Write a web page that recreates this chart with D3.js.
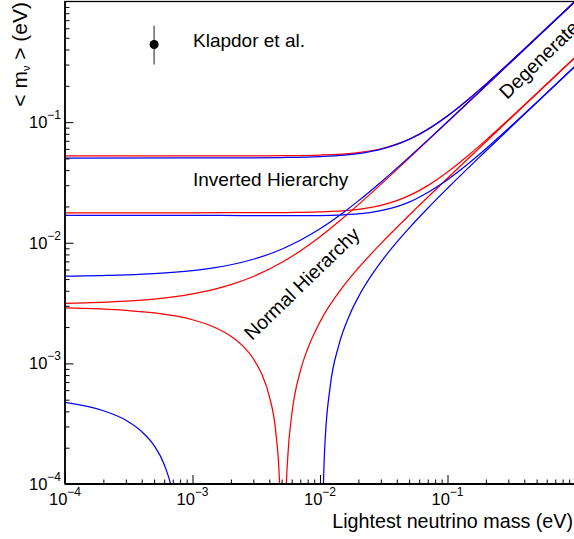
<!DOCTYPE html>
<html><head><meta charset="utf-8">
<script src="https://cdn.jsdelivr.net/npm/d3@7"></script>
<style>body{margin:0;background:#fff}svg{display:block}</style>
</head><body>
<svg id="c" width="574" height="539"></svg>
<script>
// ---- data: [lightest neutrino mass (eV), <m_nu> (eV)] ----
const redIHUpper = [[1e-4,0.05245],[1e-3,0.05246],[3e-3,0.05254],[5e-3,0.05268],[0.01,0.05335],[0.02,0.05595],[0.03,0.06015],[0.04,0.06565],[0.05,0.07215],[0.07,0.087105],[0.1,0.112647],[0.15,0.158728],[0.2,0.206644],[0.3,0.304502],[0.5,0.502778],[1,1.001541]];
const redIHLower = [[1e-4,0.01772],[1e-3,0.01773],[3e-3,0.01775],[5e-3,0.0178],[0.01,0.01803],[0.02,0.01895],[0.03,0.02042],[0.04,0.02232],[0.05,0.02458],[0.07,0.029753],[0.1,0.038575],[0.15,0.054456],[0.2,0.07095],[0.3,0.104612],[0.5,0.172788],[1,0.344245]];
const redNHUpper = [[1e-4,0.003144],[3e-4,0.003281],[5e-4,0.003417],[1e-3,0.003767],[1.5e-3,0.004124],[2e-3,0.004491],[3e-3,0.005248],[5e-3,0.006852],[7e-3,0.008552],[0.01,0.011231],[0.015,0.015902],[0.02,0.020708],[0.03,0.030495],[0.05,0.050312],[0.1,0.100174],[0.3,0.30007],[1,1.0002]];
const redNHLowerA = [[1e-4,0.002886],[3e-4,0.002753],[5e-4,0.002621],[1e-3,0.002299],[1.5e-3,0.001984],[2e-3,0.001679],[2.5e-3,0.001382],[3e-3,0.001092],[3.5e-3,0.000811],[4e-3,0.000536],[4.5e-3,0.000269],[4.8e-3,0.000111],[4.9e-3,0.000059],[4.98e-3,0.000018]];
const redNHLowerB = [[5.3e-3,0.0000226],[5.4e-3,0.0000728],[5.6e-3,0.000174],[6e-3,0.000373],[7e-3,0.000857],[8e-3,0.001321],[0.01,0.002209],[0.015,0.004259],[0.02,0.006172],[0.03,0.009825],[0.05,0.016888],[0.1,0.034226],[0.2,0.068683],[0.5,0.171869],[1,0.343784]];
const blueIHUpper = [[1e-4,0.0504],[1e-3,0.05045],[2.5e-3,0.05057],[5e-3,0.05085],[0.01,0.0518],[0.02,0.0549],[0.03,0.0595],[0.04,0.0653],[0.05,0.071981],[0.07,0.087121],[0.1,0.112676],[0.15,0.158746],[0.2,0.206644],[0.3,0.304471],[0.5,0.502696],[1,1.001351]];
const blueIHLower = [[1e-4,0.0169],[1e-3,0.01687],[2.5e-3,0.01682],[5e-3,0.01678],[0.01,0.0168],[0.02,0.01735],[0.03,0.01845],[0.04,0.0199],[0.05,0.0217],[0.07,0.026077],[0.1,0.03327],[0.15,0.046442],[0.2,0.060234],[0.3,0.088503],[0.5,0.145906],[1,0.290455]];
const blueNHUpper = [[1e-4,0.005277],[3e-4,0.005408],[5e-4,0.005539],[1e-3,0.005875],[1.5e-3,0.006218],[2e-3,0.00657],[3e-3,0.007298],[5e-3,0.008841],[7e-3,0.010477],[0.01,0.01306],[0.015,0.017579],[0.02,0.022245],[0.03,0.031792],[0.05,0.051268],[0.07,0.070971],[0.1,0.100711],[0.2,0.20037],[0.5,0.500136],[1,1.000075]];
const blueNHLowerA = [[1e-4,0.000475],[2e-4,0.000405],[3e-4,0.000338],[4e-4,0.000272],[5e-4,0.000208],[6e-4,0.000145],[7e-4,0.000083],[7.5e-4,0.000052],[8e-4,0.000022]];
const blueNHLowerB = [[0.0105,0.0000418],[0.0106,0.000082],[0.0108,0.000163],[0.011,0.000243],[0.012,0.000636],[0.014,0.001399],[0.017,0.002497],[0.02,0.003555],[0.025,0.005257],[0.03,0.006908],[0.04,0.010111],[0.05,0.013232],[0.07,0.019329],[0.1,0.028289],[0.2,0.05763],[0.5,0.144864],[1,0.289925]];
// Klapdor et al. point: [mass, central, low, high]
const klapdor = [5e-4, 0.44, 0.30, 0.63];
// tick label exponents
const xTickExps = [-4, -3, -2, -1];
const yTickExps = [-4, -3, -2, -1];
const labels = {
  x: "Lightest neutrino mass (eV)",
  klapdor: "Klapdor et al.",
  inverted: "Inverted Hierarchy",
  normal: "Normal Hierarchy",
  degenerate: "Degenerate"
};

// ---- drawing ----
const FONT = "'Liberation Sans', Arial, sans-serif";
const svg = d3.select('#c');
const L = 65, R = 575, T = 1.5, B = 484;
const x = d3.scaleLog().domain([1e-4, 1]).range([L, R]);
const y = d3.scaleLog().domain([1e-4, 1]).range([B, T]);

svg.append('defs').append('clipPath').attr('id', 'clip')
  .append('rect').attr('x', L).attr('y', T).attr('width', R - L).attr('height', B - T);

const line = d3.line()
  .x(d => x(d[0]))
  .y(d => y(Math.max(d[1], 1e-6)))
  .curve(d3.curveMonotoneX);

const curves = [
  [redIHUpper, '#ff0000'], [redIHLower, '#ff0000'], [redNHUpper, '#ff0000'],
  [redNHLowerA, '#ff0000'], [redNHLowerB, '#ff0000'],
  [blueIHUpper, '#0000ff'], [blueIHLower, '#0000ff'], [blueNHUpper, '#0000ff'],
  [blueNHLowerA, '#0000ff'], [blueNHLowerB, '#0000ff']
];
const g = svg.append('g').attr('clip-path', 'url(#clip)');
g.selectAll('path.curve').data(curves).join('path')
  .attr('class', 'curve')
  .attr('d', d => line(d[0]))
  .attr('fill', 'none')
  .attr('stroke', d => d[1])
  .attr('stroke-width', 1.25);

// axes
const majX = xTickExps.map(e => 10 ** e);
const majY = yTickExps.map(e => 10 ** e);
const isMajor = v => Math.abs(Math.log10(v) - Math.round(Math.log10(v))) < 1e-9;
const minX = x.ticks().filter(v => !isMajor(v));
const minY = y.ticks().filter(v => !isMajor(v));

function styleAxis(sel) {
  sel.select('.domain').remove();
  sel.selectAll('line').attr('stroke', '#000').attr('stroke-width', 1);
}
svg.append('g').attr('transform', `translate(0,${B})`)
  .call(d3.axisBottom(x).tickValues(minX).tickSize(-4.5).tickFormat('')).call(styleAxis);
svg.append('g').attr('transform', `translate(0,${B})`)
  .call(d3.axisBottom(x).tickValues(majX).tickSize(-9).tickFormat('')).call(styleAxis);
svg.append('g').attr('transform', `translate(${L},0)`)
  .call(d3.axisLeft(y).tickValues(minY).tickSize(-4.5).tickFormat('')).call(styleAxis);
svg.append('g').attr('transform', `translate(${L},0)`)
  .call(d3.axisLeft(y).tickValues(majY).tickSize(-8.5).tickFormat('')).call(styleAxis);

// frame
svg.append('rect').attr('x', L).attr('y', T).attr('width', R - L).attr('height', B - T)
  .attr('fill', 'none').attr('stroke', '#000').attr('stroke-width', 1.3);
svg.append('line').attr('x1', L).attr('x2', R).attr('y1', B).attr('y2', B)
  .attr('stroke', '#000').attr('stroke-width', 2);
svg.append('line').attr('x1', L).attr('x2', L).attr('y1', T).attr('y2', B)
  .attr('stroke', '#000').attr('stroke-width', 1.6);

// tick labels
svg.selectAll('text.xl').data(xTickExps).join('text')
  .attr('class', 'xl')
  .attr('x', e => x(10 ** e)).attr('y', 505)
  .attr('text-anchor', 'middle').attr('font-family', FONT).attr('font-size', 16.5)
  .each(function (e) {
    const t = d3.select(this);
    t.append('tspan').text('10');
    t.append('tspan').attr('dy', -9).attr('font-size', 12).text('\u2212' + Math.abs(e));
  });
svg.selectAll('text.yl').data(yTickExps).join('text')
  .attr('class', 'yl')
  .attr('x', 61).attr('y', e => y(10 ** e) + 6)
  .attr('text-anchor', 'end').attr('font-family', FONT).attr('font-size', 16.5)
  .each(function (e) {
    const t = d3.select(this);
    t.append('tspan').text('10');
    t.append('tspan').attr('dy', -9).attr('font-size', 12).text('\u2212' + Math.abs(e));
  });

// axis titles
svg.append('text').attr('x', 573).attr('y', 528).attr('text-anchor', 'end')
  .attr('font-family', FONT).attr('font-size', 19.7).text(labels.x);
const yt = svg.append('text').attr('transform', 'translate(27,2) rotate(-90)')
  .attr('text-anchor', 'end').attr('font-family', FONT).attr('font-size', 21);
yt.append('tspan').text('< m');
yt.append('tspan').attr('dy', 3).attr('font-size', 11).text('\u03bd');
yt.append('tspan').attr('dy', -3).text(' > (eV)');

// Klapdor point
svg.append('line').attr('x1', x(klapdor[0])).attr('x2', x(klapdor[0]))
  .attr('y1', y(klapdor[2])).attr('y2', y(klapdor[3]))
  .attr('stroke', '#777').attr('stroke-width', 1.7);
svg.append('circle').attr('cx', x(klapdor[0])).attr('cy', y(klapdor[1])).attr('r', 4.5).attr('fill', '#000');

// annotations
svg.append('text').attr('x', 193).attr('y', 47).attr('font-family', FONT).attr('font-size', 19).text(labels.klapdor);
svg.append('text').attr('x', 193).attr('y', 186).attr('font-family', FONT).attr('font-size', 19).text(labels.inverted);
svg.append('text').attr('transform', 'translate(252,341) rotate(-44)').attr('font-family', FONT).attr('font-size', 19.5).text(labels.normal);
svg.append('text').attr('transform', 'translate(507,100) rotate(-44)').attr('font-family', FONT).attr('font-size', 19.5).text(labels.degenerate);
</script>
</body></html>
